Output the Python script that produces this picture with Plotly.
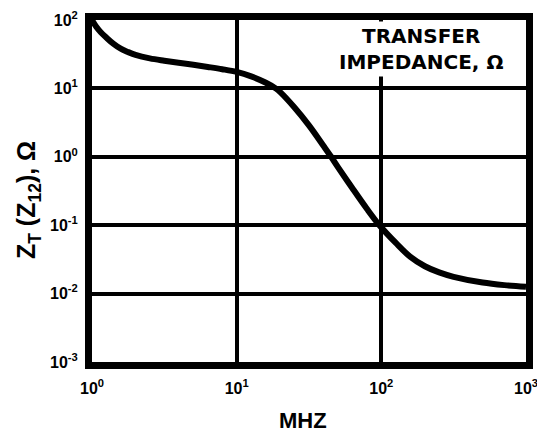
import plotly.graph_objects as go

# Transfer impedance curve, frequency in MHz vs ohms
freq_mhz = [1.0, 1.07, 1.15, 1.26, 1.41, 1.58, 1.78, 2.0, 2.51, 3.16, 4.47, 6.31,
            7.94, 10.0, 12.6, 15.8, 18.6, 20.0, 25.1, 31.6, 39.8, 45.0, 50.1, 63.1,
            79.4, 97.0, 126.0, 158.0, 200.0, 251.0, 316.0, 501.0, 708.0, 1000.0]
z_ohm = [100.0, 79.4, 66.1, 55.0, 44.7, 38.0, 33.9, 30.9, 27.5, 25.4, 22.9, 20.6,
         19.1, 17.4, 15.0, 12.2, 10.0, 8.81, 5.25, 2.88, 1.45, 1.0, 0.708, 0.347,
         0.174, 0.1, 0.055, 0.0347, 0.0251, 0.0204, 0.0176, 0.0145, 0.0133, 0.0126]

x_tick_vals = [1, 10, 100, 1000]
x_tick_text = ["10<sup>0</sup>", "10<sup>1</sup>", "10<sup>2</sup>", "10<sup>3</sup>"]
y_tick_vals = [0.001, 0.01, 0.1, 1, 10, 100]
y_tick_text = ["10<sup>-3</sup>", "10<sup>-2</sup>", "10<sup>-1</sup>",
               "10<sup>0</sup>", "10<sup>1</sup>", "10<sup>2</sup>"]

FONT = "Liberation Sans, Arial, sans-serif"
WIDE_FONT = "DejaVu Sans, sans-serif"

fig = go.Figure()
fig.add_trace(go.Scatter(
    x=freq_mhz, y=z_ohm, mode="lines",
    line=dict(color="black", width=6, shape="spline", smoothing=1.0),
    hoverinfo="skip", showlegend=False,
))

axis_common = dict(
    showline=True, mirror=True, linewidth=7, linecolor="black",
    showgrid=True, gridcolor="black", gridwidth=4,
    ticks="", zeroline=False, automargin=False, ticklabeloverflow="allow",
    tickfont=dict(family=FONT, size=16, color="black", weight="bold"),
)

fig.update_xaxes(type="log", range=[0, 3], tickmode="array",
                 tickvals=x_tick_vals, ticktext=x_tick_text,
                 ticklabelstandoff=6, **axis_common)
fig.update_yaxes(type="log", range=[-3, 2], tickmode="array",
                 tickvals=y_tick_vals, ticktext=y_tick_text,
                 ticklabelstandoff=4, **axis_common)

fig.add_annotation(
    text="TRANSFER<br>IMPEDANCE, Ω", xref="paper", yref="paper",
    x=0.757, y=0.915, xanchor="center", yanchor="middle", showarrow=False,
    font=dict(family=WIDE_FONT, size=20, color="black", weight="bold"),
    bgcolor="white", borderpad=2,
)
fig.add_annotation(
    text="MHZ", xref="paper", yref="paper",
    x=0.486, y=-0.17, xanchor="center", yanchor="middle", showarrow=False,
    font=dict(family=FONT, size=22, color="black", weight="bold"),
)
fig.add_annotation(
    text="Z<sub>T</sub> (Z<sub>12</sub>), Ω", xref="paper", yref="paper",
    x=-0.147, y=0.474, xanchor="center", yanchor="middle", showarrow=False,
    textangle=-90,
    font=dict(family=FONT, size=25, color="black", weight="bold"),
)

fig.update_layout(
    width=537, height=432,
    margin=dict(l=92, r=11, t=20, b=70),
    paper_bgcolor="white", plot_bgcolor="white",
)

fig.write_html("out.html")
